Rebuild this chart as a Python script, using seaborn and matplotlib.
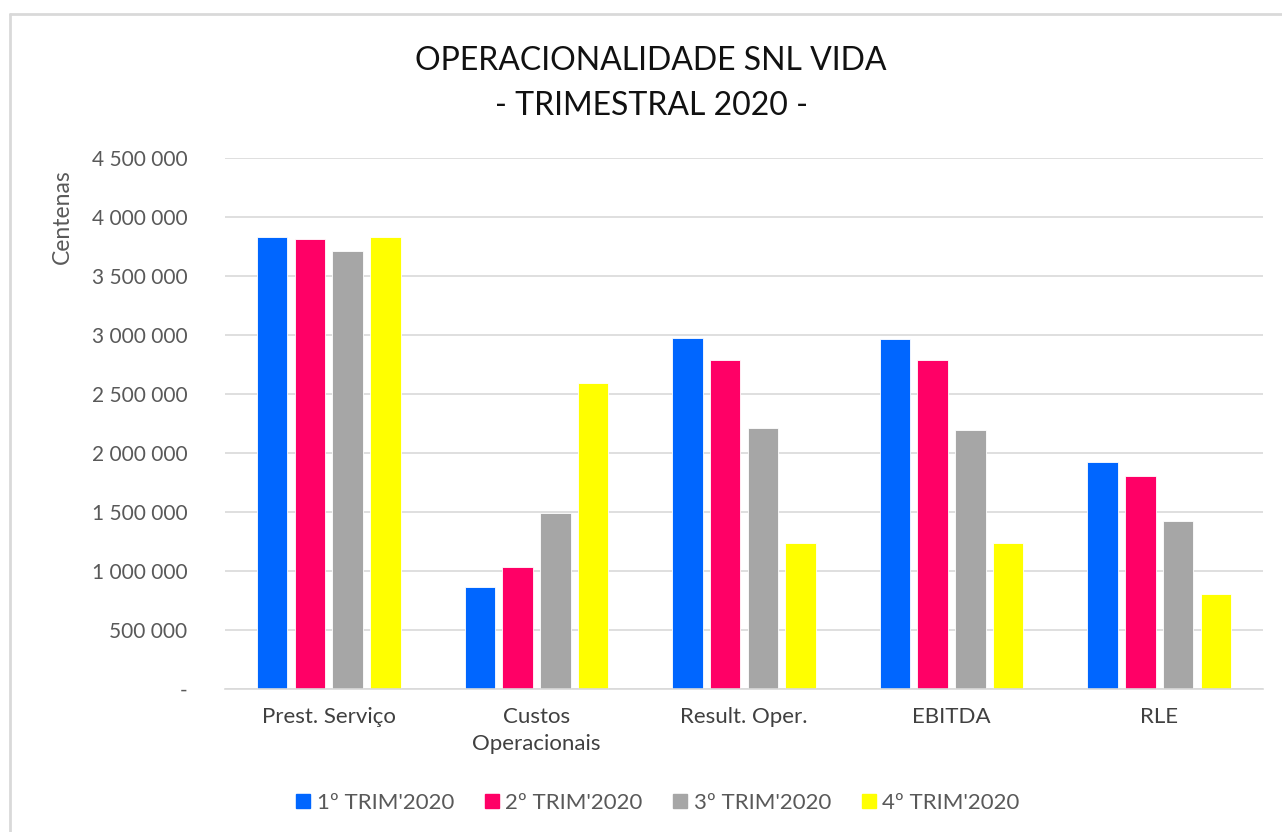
import matplotlib
matplotlib.use("Agg")
import matplotlib.pyplot as plt
import seaborn as sns
import pandas as pd
from matplotlib.lines import Line2D
from matplotlib.ticker import FuncFormatter, MultipleLocator

categories = ["Prest. Serviço", "Custos\nOperacionais", "Result. Oper.", "EBITDA", "RLE"]
series_names = ["1º TRIM'2020", "2º TRIM'2020", "3º TRIM'2020", "4º TRIM'2020"]
trim1 = [3830000, 864000, 2975000, 2970000, 1924000]
trim2 = [3812000, 1034000, 2788000, 2785000, 1805000]
trim3 = [3710000, 1490000, 2210000, 2197000, 1424000]
trim4 = [3830000, 2593000, 1237000, 1240000, 805000]
colors = ["#0066FF", "#FF0066", "#A6A6A6", "#FFFF00"]

rows = []
for name, vals in zip(series_names, [trim1, trim2, trim3, trim4]):
    for c, v in zip(categories, vals):
        rows.append({"cat": c, "serie": name, "valor": v})
df = pd.DataFrame(rows)

sns.set_theme(style="white")
plt.rcParams["font.family"] = ["Lato", "DejaVu Sans"]

W, H = 1282, 832
fig = plt.figure(figsize=(W / 100, H / 100), dpi=100)
ax = fig.add_axes([225 / W, 1 - 689 / H, (1263 - 225) / W, (689 - 158) / H])

sns.barplot(data=df, x="cat", y="valor", hue="serie", order=categories,
            hue_order=series_names, palette=colors, width=0.727, gap=0.19,
            edgecolor="white", linewidth=0.6, saturation=1, ax=ax, legend=False)

ax.set_ylim(0, 4500000)
ax.set_xlim(-0.5, len(categories) - 0.5)
ax.yaxis.set_major_locator(MultipleLocator(500000))

def fmt(v, pos):
    if v == 0:
        return "-"
    return f"{int(v):,}".replace(",", " ")

ax.yaxis.set_major_formatter(FuncFormatter(fmt))
ax.grid(axis="y", color="#d9d9d9", linewidth=1.2)
ax.set_axisbelow(True)
for s in ["top", "right", "left"]:
    ax.spines[s].set_visible(False)
ax.spines["bottom"].set_color("#d9d9d9")
ax.spines["bottom"].set_linewidth(1.2)

ax.tick_params(axis="y", length=0, pad=27, labelsize=15, labelcolor="#595959")
ax.tick_params(axis="x", length=0, pad=13, labelsize=16, labelcolor="#404040")
for lab in ax.get_xticklabels():
    lab.set_linespacing(1.45)
ax.set_xlabel("")
ax.set_ylabel("")

fig.text(62 / W, 1 - 217 / H, "Centenas", rotation=90, ha="center", va="center",
         fontsize=16.5, color="#595959")

fig.text(651 / W, 1 - 61 / H, "OPERACIONALIDADE SNL VIDA", ha="center", va="center",
         fontsize=23, color="#111111")
fig.text(651 / W, 1 - 106 / H, "- TRIMESTRAL 2020 -", ha="center", va="center",
         fontsize=23, color="#111111")

handles = [Line2D([0], [0], marker="s", linestyle="none", markersize=10,
                  markerfacecolor=c, markeredgecolor=c) for c in colors]
fig.legend(handles, series_names, loc="center", ncol=4,
           bbox_to_anchor=(657 / W, 1 - 803 / H), frameon=False, fontsize=16,
           labelcolor="#595959", handletextpad=0.2, columnspacing=1.3,
           handlelength=0.8)

# outer frame (top and left edges visible)
fig.add_artist(Line2D([10 / W, 10 / W], [0, 1 - 14 / H], transform=fig.transFigure,
                      color="#d9d9d9", linewidth=2))
fig.add_artist(Line2D([10 / W, 1], [1 - 14 / H, 1 - 14 / H], transform=fig.transFigure,
                      color="#d9d9d9", linewidth=2))

fig.savefig("out.png", dpi=100, facecolor="white")
